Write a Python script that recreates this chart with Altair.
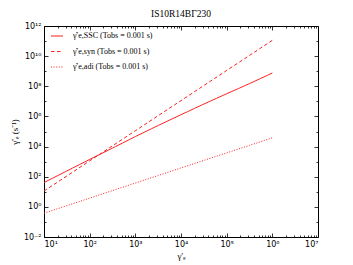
import altair as alt
import pandas as pd

# ---- data ----
gamma = [1e1, 3.16e1, 1e2, 3.16e2, 1e3, 3.16e3, 1e4, 3.16e4, 1e5, 3.16e5, 1e6]
rate_ssc = [4.1e1, 2.4e2, 1.4e3, 7.9e3, 4.6e4, 2.5e5, 1.3e6, 6.6e6, 3.2e7, 1.5e8, 7.6e8]
rate_syn = [1.12e1, 1.12e2, 1.12e3, 1.12e4, 1.12e5, 1.12e6, 1.12e7, 1.12e8, 1.12e9, 1.12e10, 1.12e11]
rate_adi = [3.8e-1, 1.2e0, 3.8e0, 1.2e1, 3.8e1, 1.2e2, 3.8e2, 1.2e3, 3.8e3, 1.2e4, 3.8e4]
series_labels = [
    "γ̇′e,SSC (Tobs = 0.001 s)",
    "γ̇′e,syn (Tobs = 0.001 s)",
    "γ̇′e,adi (Tobs = 0.001 s)",
]
chart_title = "IS10R14BΓ230"
x_title = "γ′ₑ"
y_title = "γ̇′ₑ (s⁻¹)"
x_exponents = [1, 2, 3, 4, 5, 6, 7]
y_exponents = list(range(-2, 13))
x_minor_mult = [2, 3, 4, 5, 6, 7, 8, 9]

rows = []
for lab, vals in zip(series_labels, [rate_ssc, rate_syn, rate_adi]):
    for g, v in zip(gamma, vals):
        rows.append({"gamma": g, "rate": v, "series": lab})
df = pd.DataFrame(rows)

x_major = [10.0 ** e for e in x_exponents]
x_all = sorted(x_major + [m * 10.0 ** e for e in x_exponents[:-1] for m in x_minor_mult])
y_all = [10.0 ** e for e in y_exponents]

SUP = str.maketrans("-0123456789", "⁻⁰¹²³⁴⁵⁶⁷⁸⁹")
E = "round(log(datum.value)/LN10)"


def label_expr(exps):
    parts = [f"{E} == {e} ? '10{str(e).translate(SUP)}'" for e in exps]
    return " : ".join(parts) + " : ''"


x_label_expr = label_expr(x_exponents)
y_label_expr = label_expr([e for e in y_exponents if e % 2 == 0])

W, H = 274, 211
RED = "#ff2020"

xscale = alt.Scale(type="log", domain=[10, 1e7], nice=False)
yscale = alt.Scale(type="log", domain=[1e-2, 1e12], nice=False)

x_tick_size = {"condition": {"test": f"abs(log(datum.value)/LN10 - {E}) < 0.001", "value": 4}, "value": 2}
y_tick_size = {"condition": {"test": f"{E} % 2 == 0", "value": 4}, "value": 2}

main = alt.Chart(df).mark_line(color=RED, strokeWidth=1, clip=True).encode(
    x=alt.X("gamma:Q", scale=xscale,
            axis=alt.Axis(orient="bottom", values=x_major, labelExpr=x_label_expr,
                          ticks=False, domain=False, grid=False, labelFontSize=8,
                          labelPadding=3, labelFont="DejaVu Sans", labelColor="black",
                          title=x_title, titleFont="Liberation Serif", titleFontSize=9,
                          titleFontWeight="normal", titlePadding=3, titleColor="black")),
    y=alt.Y("rate:Q", scale=yscale,
            axis=alt.Axis(orient="left", values=y_all, labelExpr=y_label_expr,
                          ticks=False, domain=False, grid=False, labelFontSize=8,
                          labelPadding=3, labelFont="DejaVu Sans", labelColor="black",
                          title=y_title, titleFont="Liberation Serif", titleFontSize=9,
                          titleFontWeight="normal", titlePadding=4, titleColor="black")),
    strokeDash=alt.StrokeDash(
        "series:N",
        scale=alt.Scale(domain=series_labels, range=[[8, 0], [3.5, 2.5], [1, 1.6]]),
        legend=alt.Legend(title=None, orient="none", legendX=6, legendY=3,
                          symbolType="stroke", symbolSize=144, symbolStrokeWidth=1.1,
                          symbolStrokeColor=RED, labelFont="Liberation Serif",
                          labelFontSize=8, labelOffset=9, rowPadding=4.5,
                          labelColor="black"),
    ),
)


def tick_layer(xorient, xoffset, yorient, yoffset):
    return alt.Chart(df).mark_line(opacity=0).encode(
        x=alt.X("gamma:Q", scale=xscale,
                axis=alt.Axis(orient=xorient, offset=xoffset, values=x_all, labels=False,
                              domain=False, grid=False, title=None, ticks=True,
                              tickColor="black", tickWidth=0.8, tickSize=x_tick_size)),
        y=alt.Y("rate:Q", scale=yscale,
                axis=alt.Axis(orient=yorient, offset=yoffset, values=y_all, labels=False,
                              domain=False, grid=False, title=None, ticks=True,
                              tickColor="black", tickWidth=0.8, tickSize=y_tick_size)),
        detail="series:N",
    )


ticks_a = tick_layer("top", -H, "right", -W)
ticks_b = tick_layer("bottom", -H, "left", -W)

chart = alt.layer(main, ticks_a, ticks_b).resolve_axis(x="independent", y="independent").properties(
    width=W, height=H,
    title=alt.Title(chart_title, font="Liberation Serif", fontSize=9.5, fontWeight="normal",
                    offset=4, color="black"),
    autosize=alt.AutoSizeParams(type="none"),
    padding={"left": 36, "top": 18, "right": 15, "bottom": 24},
).configure_view(stroke="black", strokeWidth=1)

chart.save("out.html", embed_options={"renderer": "svg", "actions": False})
